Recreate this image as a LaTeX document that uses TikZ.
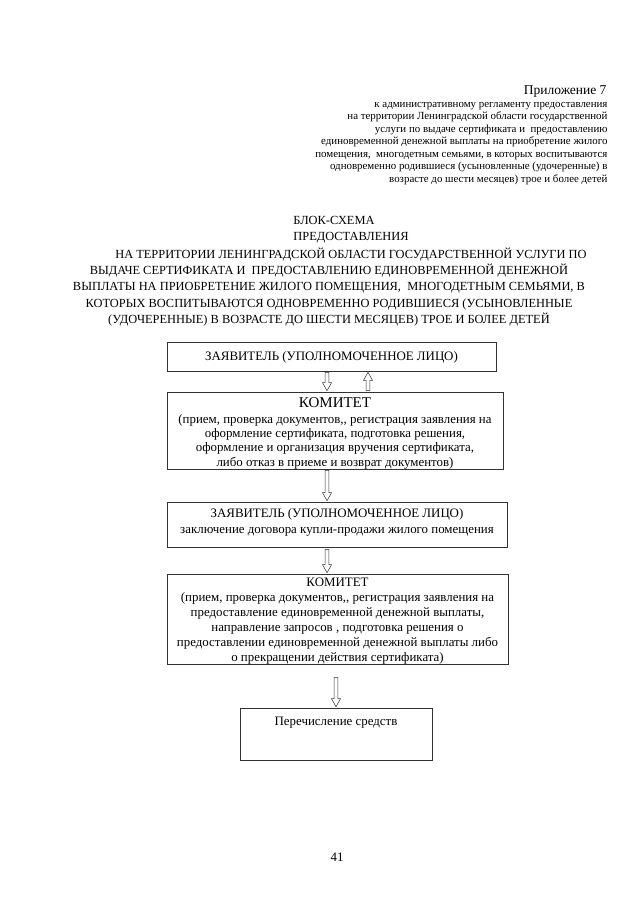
\documentclass[tikz,border=0pt]{standalone}
\usepackage{fontspec}
\setmainfont{Liberation Serif}
\usepackage{tikz}
\usetikzlibrary{positioning, calc}

% font sizes (page drawn in px)
\newcommand{\bodyfs}{\fontsize{12.9}{14.3}\selectfont}
\newcommand{\smallfs}{\fontsize{10.9}{12.5}\selectfont}
\newcommand{\bigfs}{\fontsize{15}{16}\selectfont}
\newcommand{\titlefs}{\fontsize{12.4}{16.2}\selectfont}

\tikzset{
  stepbox/.style={draw=black!80, line width=0.6pt, align=center, inner sep=0pt, font=\bodyfs},
  hollow/.style={draw=black!80, line width=0.5pt, fill=white}
}

% hollow block arrow from #1 to #2 (vertical only)
\newcommand{\hollowarrow}[2]{%
  \draw[hollow] let \p1=(#1), \p2=(#2), \n1={sign(\y2-\y1)} in
    (\x1-1.8pt,\y1) -- (\x1-1.8pt,{\y2-\n1*8pt}) -- (\x1-4.5pt,{\y2-\n1*8pt})
    -- (\x1,\y2) -- (\x1+4.5pt,{\y2-\n1*8pt}) -- (\x1+1.8pt,{\y2-\n1*8pt})
    -- (\x1+1.8pt,\y1) -- cycle;}

\begin{document}
\begin{tikzpicture}[x=1pt, y=-1pt]
    \useasboundingbox[fill=white] (0,0) rectangle (640,905);

    % header
    \node[anchor=base east, font=\fontsize{13.5}{15}\selectfont] (app) at (610,94) {Приложение 7};
    \node[anchor=north east, align=right, font=\smallfs] (apptext) at (611,98.5) {%
        к административному регламенту предоставления\\
        на территории Ленинградской области государственной\\
        услуги по выдаче сертификата и\ \ предоставлению\\
        единовременной денежной выплаты на приобретение жилого\\
        помещения,\ \ многодетным семьями, в которых воспитываются\\
        одновременно родившиеся (усыновленные (удочеренные) в\\
        возрасте до шести месяцев) трое и более детей};

    % title
    \node[anchor=base, font=\titlefs] (title1) at (334,224) {БЛОК-СХЕМА};
    \node[anchor=base, font=\titlefs] (title2) at (351,240.2) {ПРЕДОСТАВЛЕНИЯ};
    \node[anchor=north, align=center, font=\titlefs] (title) at (329,244.4) {%
        \hspace*{44pt}НА ТЕРРИТОРИИ ЛЕНИНГРАДСКОЙ ОБЛАСТИ ГОСУДАРСТВЕННОЙ УСЛУГИ ПО\\
        ВЫДАЧЕ СЕРТИФИКАТА И\ \ ПРЕДОСТАВЛЕНИЮ ЕДИНОВРЕМЕННОЙ ДЕНЕЖНОЙ\\
        ВЫПЛАТЫ НА ПРИОБРЕТЕНИЕ ЖИЛОГО ПОМЕЩЕНИЯ,\ \ МНОГОДЕТНЫМ СЕМЬЯМИ, В\\
        КОТОРЫХ ВОСПИТЫВАЮТСЯ ОДНОВРЕМЕННО РОДИВШИЕСЯ (УСЫНОВЛЕННЫЕ\\
        (УДОЧЕРЕННЫЕ) В ВОЗРАСТЕ ДО ШЕСТИ МЕСЯЦЕВ) ТРОЕ И БОЛЕЕ ДЕТЕЙ};

    % boxes (text height = last baseline below the top edge)
    \node[stepbox, minimum width=329pt, text height=18.5pt, text depth=10.5pt] (applicant) at (331.5,356.5)
        {ЗАЯВИТЕЛЬ (УПОЛНОМОЧЕННОЕ ЛИЦО)};
    \node[stepbox, minimum width=336pt, text height=74.2pt, text depth=2.8pt] (committee) at (335,430.5)
        {{\bigfs КОМИТЕТ}\\[1.5pt]
         (прием, проверка документов,{},  регистрация заявления на\\
         оформление сертификата, подготовка решения,\\
         оформление и организация вручения сертификата,\\
         либо отказ в приеме и возврат документов)};
    \node[stepbox, minimum width=340pt, text height=31.8pt, text depth=13.2pt] (contract) at (337,524.5)
        {ЗАЯВИТЕЛЬ (УПОЛНОМОЧЕННОЕ ЛИЦО)\\[2pt]
         заключение договора купли-продажи жилого помещения};
    \node[stepbox, minimum width=341pt, text height=87pt, text depth=3pt, font=\fontsize{12.9}{14.9}\selectfont] (payment) at (337.5,619)
        {КОМИТЕТ\\
         (прием, проверка документов,{},  регистрация заявления на\\
         предоставление единовременной денежной выплаты,\\
         направление запросов , подготовка решения о\\
         предоставлении единовременной денежной выплаты либо\\
         о прекращении действия сертификата)};
    \node[stepbox, minimum width=192pt, text height=17.5pt, text depth=34.5pt] (transfer) at (336,734)
        {Перечисление средств};

    % arrows
    \hollowarrow{$(applicant.south)+(-4.5,1)$}{$(committee.north)+(-8,-1)$}
    \hollowarrow{$(committee.north)+(33,-1)$}{$(applicant.south)+(36.5,1)$}
    \hollowarrow{$(committee.south)+(-8,1)$}{$(contract.north)+(-10,-1)$}
    \hollowarrow{$(contract.south)+(-10,2)$}{$(payment.north)+(-10.5,-1)$}
    \hollowarrow{$(payment.south)+(-1.5,13)$}{$(transfer.north)+(0,-1)$}

    % page number
    \node[font=\bodyfs] (pageno) at (337,857) {41};
\end{tikzpicture}
\end{document}
